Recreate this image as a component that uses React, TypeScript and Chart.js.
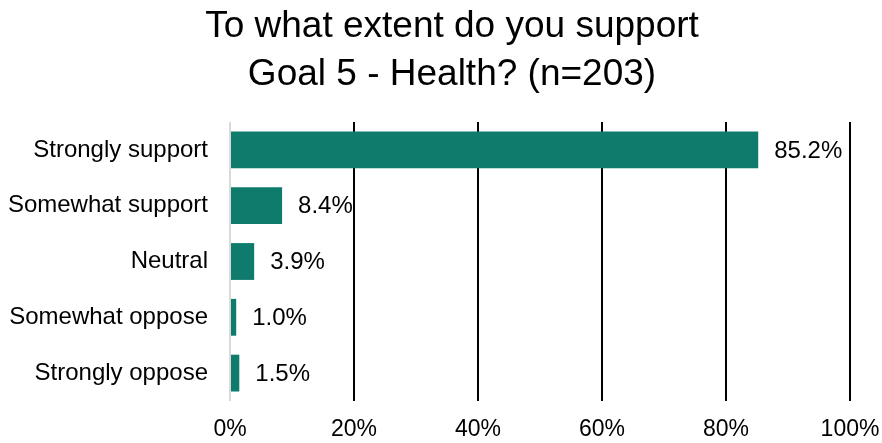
import React, { useEffect, useRef } from "react";
import { Chart, registerables } from "chart.js";

Chart.register(...registerables);

const titleLines = ["To what extent do you support", "Goal 5 - Health? (n=203)"];
const categories = ["Strongly support", "Somewhat support", "Neutral", "Somewhat oppose", "Strongly oppose"];
const values = [85.2, 8.4, 3.9, 1.0, 1.5];
const xTicks = [0, 20, 40, 60, 80, 100];

const FONT = "'Liberation Sans', Arial, Helvetica, sans-serif";
const BAR_COLOR = "#0e7b6c";

const valueLabels = {
  id: "valueLabels",
  afterDatasetsDraw(chart: any) {
    const ctx = chart.ctx;
    const meta = chart.getDatasetMeta(0);
    ctx.save();
    ctx.font = `24px ${FONT}`;
    ctx.fillStyle = "#000";
    ctx.textAlign = "left";
    ctx.textBaseline = "middle";
    meta.data.forEach((bar: any, i: number) => {
      const v = chart.data.datasets[0].data[i];
      ctx.fillText(`${v.toFixed(1)}%`, bar.x + 16, bar.y + 1);
    });
    ctx.restore();
  },
};

const titleDraw = {
  id: "titleDraw",
  afterDraw(chart: any) {
    const ctx = chart.ctx;
    ctx.save();
    ctx.font = `37px ${FONT}`;
    ctx.fillStyle = "#000";
    ctx.textAlign = "center";
    ctx.textBaseline = "alphabetic";
    const cx = 452;
    titleLines.forEach((line, i) => {
      ctx.fillText(line, cx, 37 + i * 48);
    });
    ctx.restore();
  },
};

export default function App() {
  const ref = useRef<HTMLCanvasElement | null>(null);
  useEffect(() => {
    if (!ref.current) return;
    const chart = new Chart(ref.current, {
      type: "bar",
      data: {
        labels: categories,
        datasets: [
          {
            data: values,
            backgroundColor: BAR_COLOR,
            borderWidth: 0,
            categoryPercentage: 1,
            barPercentage: 0.66,
          },
        ],
      },
      options: {
        indexAxis: "y",
        animation: false,
        responsive: false,
        maintainAspectRatio: false,
        layout: { padding: { left: 8, right: 32, top: 122, bottom: 0 } },
        plugins: {
          legend: { display: false },
          tooltip: { enabled: false },
          title: { display: false },
        },
        scales: {
          x: {
            min: 0,
            max: 100,
            afterBuildTicks: (axis: any) => {
              axis.ticks = xTicks.map((v) => ({ value: v }));
            },
            afterFit: (s: any) => {
              s.height = 42;
              s.paddingLeft = 0;
              s.paddingRight = 0;
            },
            ticks: {
              color: "#000",
              font: { family: FONT, size: 23 },
              padding: 15,
              callback: (v: any) => `${v}%`,
            },
            grid: {
              color: (c: any) => (c.tick && c.tick.value === 0 ? "#d9d9d9" : "#000"),
              lineWidth: 2,
              drawTicks: false,
            },
            border: { display: false },
          },
          y: {
            afterFit: (s: any) => {
              s.width = 222;
              s.paddingTop = 0;
              s.paddingBottom = 0;
            },
            ticks: {
              color: "#000",
              font: { family: FONT, size: 24 },
              padding: 22,
            },
            grid: { display: false, drawTicks: false },
            border: { display: false },
          },
        },
      },
      plugins: [valueLabels, titleDraw],
    });
    return () => chart.destroy();
  }, []);
  return (
    <div style={{ position: "fixed", left: 0, top: 0, width: 882, height: 443, background: "#fff" }}>
      <canvas ref={ref} width={882} height={443} style={{ width: 882, height: 443 }} />
    </div>
  );
}
